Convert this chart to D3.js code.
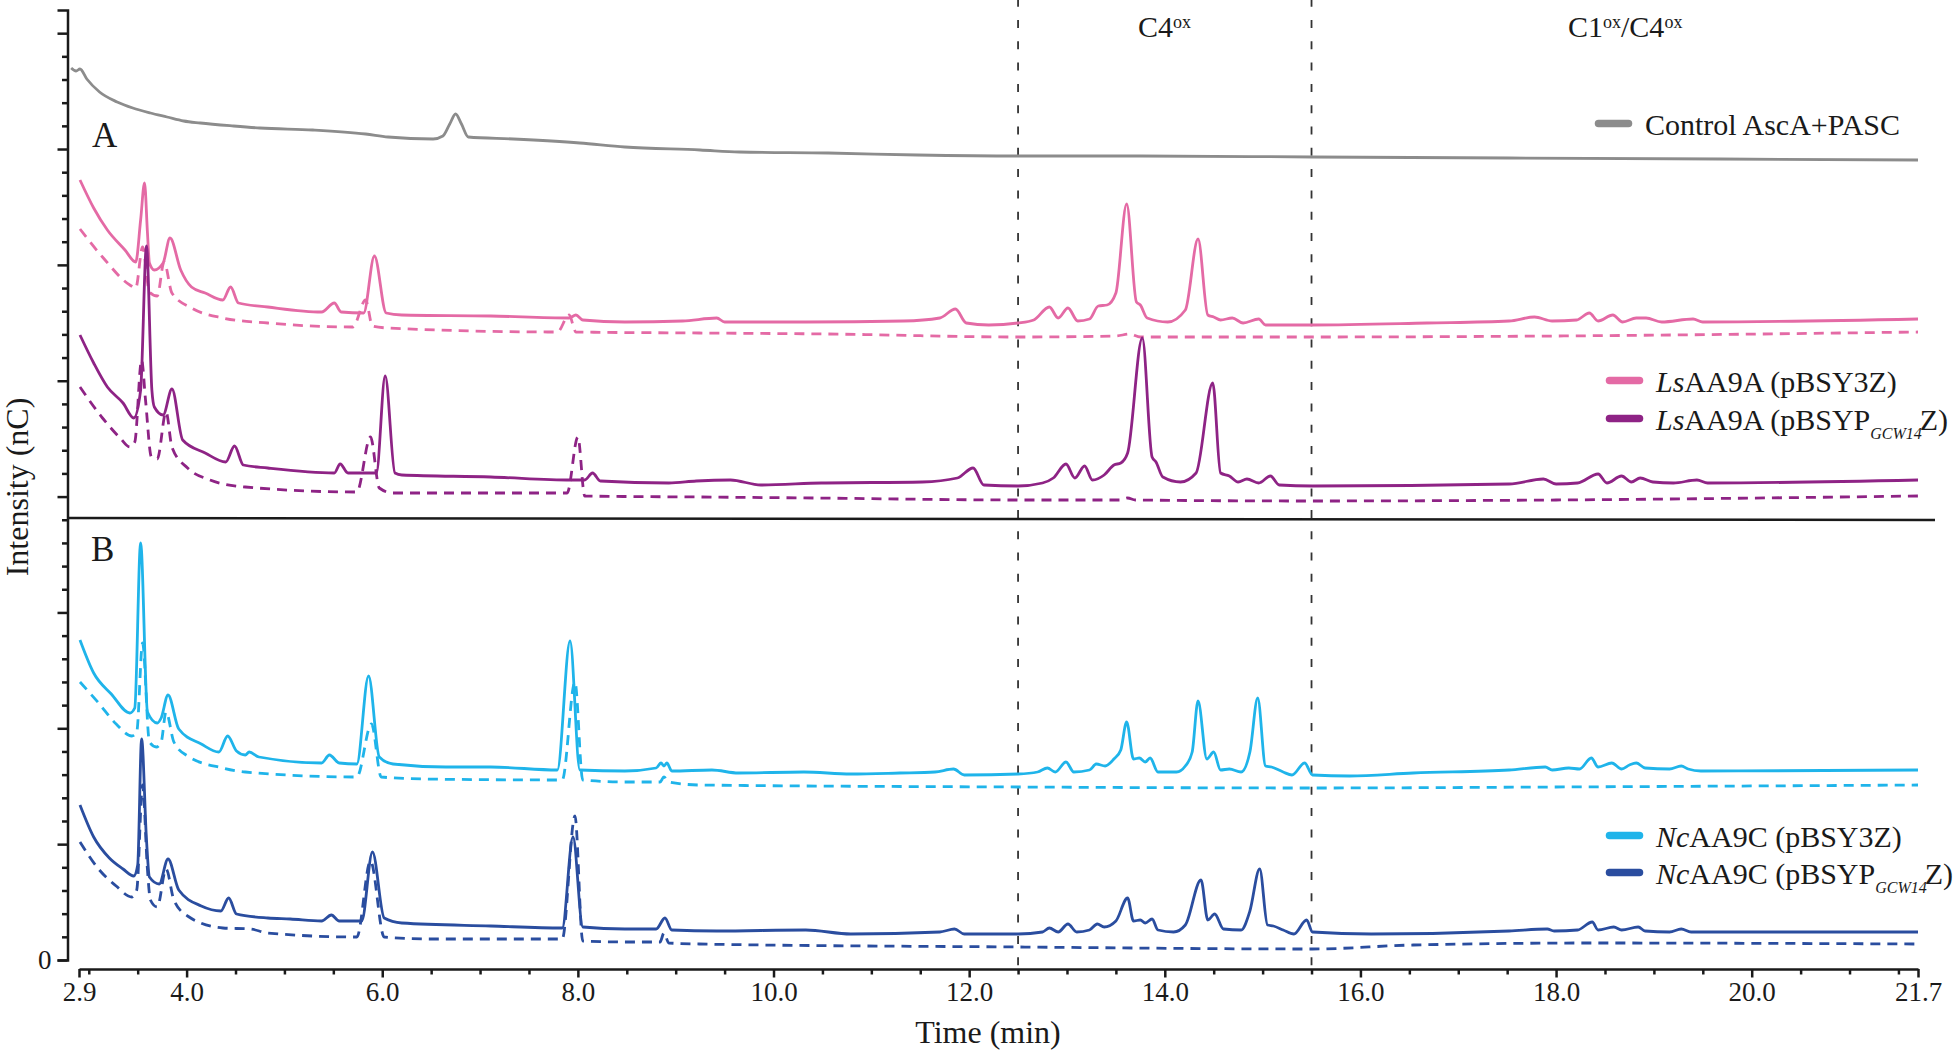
<!DOCTYPE html>
<html>
<head>
<meta charset="utf-8">
<script src="https://cdn.jsdelivr.net/npm/d3@7"></script>
<style>
  body { margin: 0; background: #fff; }
  svg { display: block; font-family: "Liberation Serif", "DejaVu Serif", serif; }
</style>
</head>
<body>
<div id="chart"></div>
<script>
// HPAEC-PAD chromatograms, stacked traces (time in min, intensity in nC, arbitrary offset)

const width = 1960;
const height = 1050;

// x tick labels and the two region boundaries
const xMajorTicks = [2.9, 4, 6, 8, 10, 12, 14, 16, 18, 20, 21.7];
const regionBounds = [12.5, 15.5];
const regionLabels = [
  { base: "C4", sup: "ox", x: 1138 },
  { base: "C1", sup: "ox", rest: "/C4", sup2: "ox", x: 1568 }
];

// y axis: 41 minor divisions, long tick every 5, only 0 labelled
const yMax = 950;
const yDivisions = 41;
const panelDivider = [442, 440];   // intensity level of the A/B separator (left, right)

// traces: [time (min), intensity]
const controlTrace = [[2.82,892],[2.87,889],[2.91,891],[2.98,881],[3.11,868],[3.29,858],[3.45,852],[3.63,847],[3.80,843],[3.97,839],[4.14,837],[4.48,834],[4.75,832],[5.29,830],[5.83,826],[6.06,823],[6.52,821],[6.62,824],[6.69,836],[6.75,846],[6.81,836],[6.88,823],[7.34,821],[8.02,817],[8.48,813],[9.25,810],[9.65,808],[10.56,807],[11.47,805],[12.5,804],[13.75,804],[15.51,803],[17.52,802],[19.68,801],[21.7,800]];

const lsY3Z = [[2.91,780],[3.05,752],[3.19,730],[3.37,710],[3.48,698],[3.53,740],[3.57,777],[3.60,727],[3.62,697],[3.67,690],[3.76,697],[3.83,722],[3.94,690],[4.05,673],[4.19,667],[4.37,660],[4.45,673],[4.53,657],[4.83,653],[5.38,648],[5.51,657],[5.58,648],[5.81,647],[5.92,704],[6.04,647],[6.20,645],[7.11,644],[7.91,642],[7.98,645],[8.05,640],[8.48,638],[9.07,639],[9.42,642],[9.50,638],[10.33,638],[11.33,639],[11.70,642],[11.86,651],[11.97,637],[12.20,635],[12.50,637],[12.66,640],[12.82,653],[12.91,642],[13.01,652],[13.11,639],[13.23,641],[13.32,654],[13.41,655],[13.50,667],[13.61,756],[13.71,658],[13.75,655],[13.82,642],[14.03,638],[14.21,650],[14.34,721],[14.44,645],[14.50,643],[14.57,640],[14.69,642],[14.80,637],[14.96,641],[15.03,635],[15.51,635],[16.68,637],[17.52,639],[17.78,643],[17.96,639],[18.21,640],[18.34,647],[18.43,639],[18.58,645],[18.68,638],[18.82,642],[18.92,642],[19.08,638],[19.40,641],[19.50,638],[21.7,641]];

const lsY3ZDash = [[2.91,731],[3.14,703],[3.42,675],[3.48,672],[3.55,713],[3.62,668],[3.70,664],[3.77,698],[3.85,667],[4.05,652],[4.37,642],[4.83,637],[5.70,633],[5.83,660],[5.90,634],[6.06,632],[7.79,628],[7.91,645],[7.98,628],[9.24,627],[10.55,626],[12.5,623],[13.5,624],[13.64,626],[13.75,623],[15.5,623],[18.0,624],[21.7,628]];

const lsGcw = [[2.91,625],[3.05,597],[3.19,573],[3.35,557],[3.46,542],[3.53,570],[3.59,714],[3.645,570],[3.67,553],[3.76,545],[3.85,571],[3.96,520],[4.19,507],[4.40,498],[4.49,514],[4.58,495],[4.83,492],[5.51,487],[5.57,496],[5.65,487],[5.94,487],[6.03,584],[6.13,487],[6.20,485],[7.11,483],[7.93,480],[8.07,480],[8.15,487],[8.23,479],[8.93,477],[9.21,479],[9.56,480],[9.87,475],[10.49,477],[11.52,478],[11.88,482],[12.04,492],[12.15,475],[12.50,474],[12.75,477],[12.86,482],[12.99,496],[13.08,482],[13.18,494],[13.26,480],[13.38,485],[13.48,495],[13.55,497],[13.62,507],[13.77,622],[13.87,503],[13.91,498],[13.98,483],[14.16,478],[14.32,487],[14.49,577],[14.57,487],[14.66,484],[14.75,478],[14.84,481],[14.96,477],[15.08,484],[15.17,475],[15.51,474],[17.52,476],[17.87,481],[18.00,476],[18.22,477],[18.43,486],[18.52,477],[18.67,484],[18.77,478],[18.86,482],[18.99,478],[19.20,477],[19.44,480],[19.55,477],[21.7,480]];

const lsGcwDash = [[2.91,573],[3.14,542],[3.32,522],[3.42,513],[3.47,518],[3.54,600],[3.58,560],[3.64,503],[3.70,501],[3.79,548],[3.85,513],[4.01,492],[4.24,480],[4.60,473],[5.74,468],[5.88,523],[5.97,472],[6.11,467],[7.89,467],[8.00,523],[8.07,464],[9.24,463],[10.42,462],[12.5,460],[13.55,460],[13.62,462],[13.70,460],[15.51,459],[18.0,460],[21.7,464]];

const ncY3Z = [[2.91,320],[3.05,287],[3.23,266],[3.42,247],[3.47,252],[3.53,417],[3.60,248],[3.70,237],[3.74,242],[3.81,265],[3.92,231],[4.15,216],[4.33,208],[4.42,224],[4.51,209],[4.60,205],[4.64,208],[4.74,203],[5.38,197],[5.46,205],[5.56,197],[5.74,196],[5.86,284],[5.97,203],[6.11,196],[6.65,193],[7.11,193],[7.79,190],[7.92,319],[8.02,190],[8.48,189],[8.80,192],[8.85,197],[8.88,194],[8.91,197],[8.96,189],[9.37,190],[9.64,187],[10.31,188],[10.79,186],[11.29,187],[11.65,188],[11.84,191],[11.95,185],[12.5,186],[12.70,188],[12.80,192],[12.88,188],[12.99,198],[13.07,188],[13.23,190],[13.30,196],[13.39,194],[13.48,201],[13.55,210],[13.61,238],[13.68,201],[13.74,202],[13.80,198],[13.85,202],[13.93,188],[14.12,188],[14.21,194],[14.28,208],[14.34,259],[14.43,201],[14.50,208],[14.57,190],[14.66,191],[14.78,188],[14.87,208],[14.95,262],[15.03,194],[15.09,193],[15.21,188],[15.30,185],[15.43,197],[15.51,185],[15.89,184],[16.54,187],[17.52,190],[17.89,193],[17.96,190],[18.13,192],[18.24,191],[18.36,202],[18.43,193],[18.57,197],[18.67,191],[18.75,195],[18.82,197],[18.91,192],[19.16,191],[19.28,194],[19.35,191],[19.48,189],[21.7,190]];

const ncY3ZDash = [[2.91,278],[3.10,257],[3.28,236],[3.44,224],[3.49,228],[3.55,317],[3.62,218],[3.69,213],[3.74,218],[3.79,248],[3.87,218],[4.01,204],[4.37,192],[4.60,188],[5.74,183],[5.89,236],[5.99,183],[6.43,181],[7.84,180],[7.97,278],[8.05,180],[8.48,178],[8.84,178],[8.88,183],[8.93,178],[9.24,175],[12.5,173],[15.51,172],[18.0,173],[21.7,175]];

const ncGcw = [[2.91,155],[3.05,123],[3.21,102],[3.35,91],[3.46,84],[3.50,95],[3.54,221],[3.59,120],[3.62,83],[3.72,76],[3.81,101],[3.92,70],[4.15,54],[4.35,49],[4.43,62],[4.51,46],[4.83,42],[5.06,41],[5.38,39],[5.48,45],[5.56,39],[5.79,39],[5.90,108],[6.02,42],[6.20,37],[7.11,34],[7.84,32],[7.95,123],[8.05,33],[8.48,31],[8.80,31],[8.89,42],[8.96,30],[9.42,29],[10.33,30],[10.79,26],[11.70,28],[11.85,31],[11.95,26],[12.5,26],[12.75,28],[12.82,32],[12.91,28],[13.01,36],[13.10,28],[13.23,30],[13.31,36],[13.38,33],[13.50,39],[13.62,62],[13.68,39],[13.75,40],[13.80,37],[13.87,41],[13.93,30],[14.09,28],[14.21,35],[14.37,80],[14.44,40],[14.51,46],[14.60,31],[14.78,30],[14.87,49],[14.97,91],[15.05,35],[15.11,34],[15.21,30],[15.32,26],[15.45,40],[15.51,28],[16.11,26],[17.52,29],[17.91,31],[17.98,29],[18.22,30],[18.37,38],[18.43,30],[18.59,33],[18.67,30],[18.84,33],[18.91,29],[19.16,28],[19.28,31],[19.38,28],[21.7,28]];

const ncGcwDash = [[2.91,118],[3.10,91],[3.28,74],[3.44,63],[3.49,70],[3.55,175],[3.60,90],[3.63,60],[3.70,53],[3.79,91],[3.87,60],[4.01,44],[4.37,32],[4.65,31],[4.83,27],[5.74,23],[5.88,99],[6.02,23],[6.50,21],[7.84,21],[7.97,144],[8.05,19],[8.48,18],[8.84,18],[8.88,27],[8.93,17],[9.24,16],[12.5,13],[15.51,11],[16.54,15],[18.37,17],[21.7,16]];

// series colours
const colors = {
  control: "#8c8c8c",
  ls1: "#e46aa5",
  ls2: "#8e2385",
  nc1: "#1fb4ea",
  nc2: "#2a4d9f"
};

const traces = [
  { data: controlTrace, color: colors.control, dashed: false },
  { data: lsY3ZDash, color: colors.ls1, dashed: true },
  { data: lsY3Z, color: colors.ls1, dashed: false },
  { data: lsGcwDash, color: colors.ls2, dashed: true },
  { data: lsGcw, color: colors.ls2, dashed: false },
  { data: ncY3ZDash, color: colors.nc1, dashed: true },
  { data: ncY3Z, color: colors.nc1, dashed: false },
  { data: ncGcwDash, color: colors.nc2, dashed: true },
  { data: ncGcw, color: colors.nc2, dashed: false }
];

// legend entries (italic genus prefix, optional subscript)
const legendItems = [
  { prefix: "", main: "Control AscA+PASC", sub: "", tail: "", color: colors.control, x: 1595, y: 135 },
  { prefix: "Ls", main: "AA9A (pBSY3Z)", sub: "", tail: "", color: colors.ls1, x: 1606, y: 392 },
  { prefix: "Ls", main: "AA9A (pBSYP", sub: "GCW14", tail: "Z)", color: colors.ls2, x: 1606, y: 430 },
  { prefix: "Nc", main: "AA9C (pBSY3Z)", sub: "", tail: "", color: colors.nc1, x: 1606, y: 847 },
  { prefix: "Nc", main: "AA9C (pBSYP", sub: "GCW14", tail: "Z)", color: colors.nc2, x: 1606, y: 884 }
];

const panelLabels = [
  { text: "A", x: 92, y: 147 },
  { text: "B", x: 91, y: 561 }
];

// 1) svg container
const svg = d3.select("#chart")
  .append("svg")
  .attr("width", width)
  .attr("height", height);

svg.append("rect").attr("width", width).attr("height", height).attr("fill", "#fff");

// 2) scales
const xScale = d3.scaleLinear().domain([2.9, 21.7]).range([79, 1918]);
const yScale = d3.scaleLinear().domain([0, yMax]).range([960, 10]);
const yAxisX = 67.5;
const xAxisY = 969;
const ink = "#1a1a1a";

// 3) axes
const yStep = yMax / yDivisions;
const yTicks = d3.range(yDivisions).map(i => i * yStep);

const yAxis = svg.append("g")
  .attr("transform", `translate(${yAxisX},0)`)
  .call(d3.axisLeft(yScale)
    .tickValues(yTicks)
    .tickSize(5.5)
    .tickSizeOuter(10)
    .tickPadding(10.5)
    .tickFormat((d, i) => i === 0 ? "0" : ""));
yAxis.selectAll(".tick line").attr("x2", (d, i) => i % 5 === 0 ? -10 : -5.5);

const xAxis = svg.append("g")
  .attr("transform", `translate(0,${xAxisY})`)
  .call(d3.axisBottom(xScale)
    .tickValues(xMajorTicks)
    .tickSize(8.5)
    .tickSizeOuter(0)
    .tickPadding(4)
    .tickFormat(d3.format(".1f")));

const xMinorTicks = d3.range(3, 21.6, 0.5).filter(v => !xMajorTicks.includes(v));
const xMinor = svg.append("g")
  .attr("transform", `translate(0,${xAxisY})`)
  .call(d3.axisBottom(xScale).tickValues(xMinorTicks).tickSize(5.5).tickFormat(""));
xMinor.select(".domain").remove();

[yAxis, xAxis, xMinor].forEach(g => {
  g.attr("font-size", 27).attr("font-family", "Liberation Serif, serif");
  g.selectAll("path, line").attr("stroke", ink).attr("stroke-width", 2.5);
  g.selectAll("text").attr("fill", ink);
});

// axis titles
svg.append("text")
  .attr("transform", "translate(28,487) rotate(-90)")
  .attr("text-anchor", "middle")
  .attr("font-size", 32)
  .attr("fill", ink)
  .text("Intensity (nC)");

svg.append("text")
  .attr("x", 988)
  .attr("y", 1043)
  .attr("text-anchor", "middle")
  .attr("font-size", 32)
  .attr("fill", ink)
  .text("Time (min)");

// region boundaries and labels
svg.selectAll(".bound")
  .data(regionBounds)
  .enter()
  .append("line")
  .attr("class", "bound")
  .attr("x1", d => xScale(d))
  .attr("x2", d => xScale(d))
  .attr("y1", 0)
  .attr("y2", xAxisY)
  .attr("stroke", "#333")
  .attr("stroke-width", 1.8)
  .attr("stroke-dasharray", "8,13.3")
  .attr("stroke-dashoffset", 1.3);

regionLabels.forEach(r => {
  const t = svg.append("text")
    .attr("x", r.x)
    .attr("y", 37)
    .attr("font-size", 30)
    .attr("fill", ink);
  t.append("tspan").text(r.base);
  t.append("tspan").attr("font-size", 18).attr("dy", -9).text(r.sup);
  if (r.rest) {
    t.append("tspan").attr("font-size", 30).attr("dy", 9).text(r.rest);
    t.append("tspan").attr("font-size", 18).attr("dy", -9).text(r.sup2);
  }
});

// panel separator
svg.append("line")
  .attr("x1", yAxisX)
  .attr("x2", 1935)
  .attr("y1", yScale(panelDivider[0]))
  .attr("y2", yScale(panelDivider[1]))
  .attr("stroke", ink)
  .attr("stroke-width", 2.5);

// panel letters
svg.selectAll(".panel")
  .data(panelLabels)
  .enter()
  .append("text")
  .attr("class", "panel")
  .attr("x", d => d.x)
  .attr("y", d => d.y)
  .attr("font-size", 35)
  .attr("fill", ink)
  .text(d => d.text);

// 4) traces
const line = d3.line()
  .x(d => xScale(d[0]))
  .y(d => yScale(d[1]))
  .curve(d3.curveMonotoneX);

svg.selectAll(".trace")
  .data(traces)
  .enter()
  .append("path")
  .attr("class", "trace")
  .attr("d", d => line(d.data))
  .attr("fill", "none")
  .attr("stroke", d => d.color)
  .attr("stroke-width", 2.8)
  .attr("stroke-linejoin", "round")
  .attr("stroke-dasharray", d => d.dashed ? "10,7" : null);

// 5) legend
const legend = svg.selectAll(".legend")
  .data(legendItems)
  .enter()
  .append("g")
  .attr("class", "legend");

legend.append("line")
  .attr("x1", d => d.x + 3.5)
  .attr("x2", d => d.x + 33.5)
  .attr("y1", d => d.y - 11.5)
  .attr("y2", d => d.y - 11.5)
  .attr("stroke", d => d.color)
  .attr("stroke-width", 7.5)
  .attr("stroke-linecap", "round");

legend.each(function (d) {
  const t = d3.select(this).append("text")
    .attr("x", d.x + 50)
    .attr("y", d.y)
    .attr("font-size", 30)
    .attr("fill", ink);
  if (d.prefix) t.append("tspan").attr("font-style", "italic").text(d.prefix);
  t.append("tspan").text(d.main);
  if (d.sub) {
    t.append("tspan").attr("font-size", 16).attr("font-style", "italic").attr("dy", 9).text(d.sub);
    t.append("tspan").attr("dy", -9).attr("dx", -2).text(d.tail);
  }
});
</script>
</body>
</html>
